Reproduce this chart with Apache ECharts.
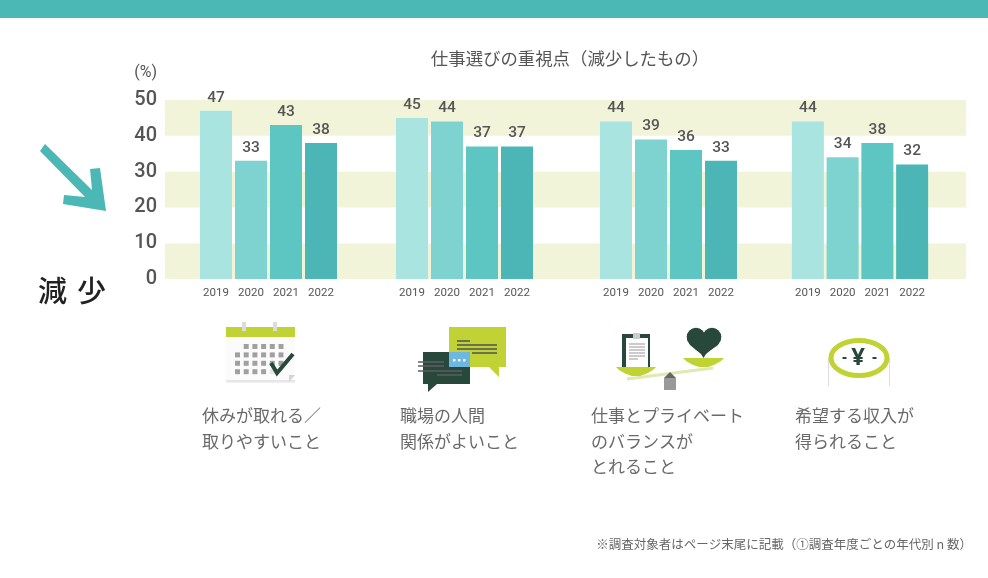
<!DOCTYPE html>
<html><head><meta charset="utf-8">
<style>html,body{margin:0;padding:0;background:#fff}#c{width:988px;height:578px}</style>
<script src="https://cdn.jsdelivr.net/npm/echarts@6/dist/echarts.min.js"></script>
</head><body><div id="c"></div>
<script>
const chartTitle = '仕事選びの重視点（減少したもの）';
const years = ['2019','2020','2021','2022'];
const yearColors = ['#a9e4e0','#7ed3d0','#5ec6c2','#4bb6b5'];
const restTime = [47,33,43,38];
const relations = [45,44,37,37];
const balance = [44,39,36,33];
const income = [44,34,38,32];
const groups = [restTime, relations, balance, income];
const yTicksMax = 50;
const captions = ['休みが取れる／\n取りやすいこと','職場の人間\n関係がよいこと','仕事とプライベート\nのバランスが\nとれること','希望する収入が\n得られること'];
const footnote = '※調査対象者はページ末尾に記載（①調査年度ごとの年代別 n 数）';

const JP = '"Noto Sans CJK JP"';
const NUM = 'Roboto, "Noto Sans"';
const gridLefts = [198.5, 394.5, 598.5, 790.5];
const capX = [202, 400, 591, 795];

const grids = [{left:165, width:801, top:100, height:179}];
const xAxes = [{gridIndex:0, type:'category', data:[''], show:false}];
const yAxes = [{gridIndex:0, type:'value', min:0, max:yTicksMax, interval:10,
  name:'(%)', nameGap:19, nameTextStyle:{align:'right', padding:[0,8,0,0], color:'#555', fontSize:16, fontFamily:NUM},
  axisLine:{show:false}, axisTick:{show:false}, splitLine:{show:false},
  splitArea:{show:true, areaStyle:{color:['#f1f4d9','#ffffff']}},
  axisLabel:{margin:8, color:'#555', fontSize:20, fontWeight:500, fontFamily:NUM, padding:[0,0,4,0]}}];
const series = [];
groups.forEach((vals,i)=>{
  const n=i+1;
  grids.push({left:gridLefts[i], width:i===3?139:140, top:100, height:179});
  xAxes.push({gridIndex:n, type:'category', data:years, axisLine:{show:false}, axisTick:{show:false},
    axisLabel:{margin:8, color:'#555', fontSize:11.5, fontFamily:NUM, interval:0}});
  yAxes.push({gridIndex:n, type:'value', min:0, max:yTicksMax, interval:10, show:false, splitLine:{show:false}});
  series.push({type:'bar', xAxisIndex:n, yAxisIndex:n, barWidth:32,
    data:vals.map((v,k)=>({value:v, itemStyle:{color:yearColors[k]}})),
    label:{show:true, position:'top', distance:5, color:'#555', fontSize:15.5, fontWeight:500, fontFamily:NUM}});
});

const DG='#27483a', LG='#c1d234', G='#a0a0a0';
const g=[];
const rect=(x,y,w,h,fill)=>g.push({type:'rect',shape:{x,y,width:w,height:h},style:{fill}});
const poly=(pts,fill)=>g.push({type:'polygon',shape:{points:pts},style:{fill}});
const line=(x1,y1,x2,y2,stroke,w)=>g.push({type:'line',shape:{x1,y1,x2,y2},style:{stroke,lineWidth:w}});
const text=(x,y,t,o)=>g.push({type:'text',x,y,style:Object.assign({text:t,fontFamily:JP,fill:'#666'},o)});

// arrow
poly([[45,144],[92,190],[90,169],[100,168],[106,211],[63,204],[64,195],[85,197],[40,151]],'#4bb8b5');
text(38,276,'減',{fontSize:29,fill:'#222',fontWeight:500});
text(77,276,'少',{fontSize:29,fill:'#222',fontWeight:500});

// captions
captions.forEach((c,i)=>text(capX[i],403,c,{fontSize:17,lineHeight:25.5,fill:'#6a6a6a',verticalAlign:'top'}));
text(972,544,footnote,{fontSize:12.5,fill:'#666',align:'right',verticalAlign:'middle'});

// calendar
rect(226,337,69,45,'#fbfbfb');
rect(226,380,69,2.5,'#e6e6e6');
rect(226,327,69,10,LG);
rect(242,322,4,9,'#dcdcdc'); rect(273,322,4,9,'#dcdcdc');
const cal=[[1,5],[0,6],[0,6],[0,5]];
cal.forEach((r,ri)=>{for(let k=0;k<r[1];k++) rect(235+(r[0]+k)*8.7,344+ri*8.4,5,5,(ri>=2&&k===4)?(ri===3?'#e6e6e6':G):G);});
poly([[289,382],[295,375],[289,375]],'#d4d4d4');
g.push({type:'polyline',shape:{points:[[271,363],[277,373],[293,354]]},style:{stroke:DG,lineWidth:4,fill:null}});

// speech bubbles
poly([[449,327],[506,327],[506,367],[499,367],[499,377],[489,367],[449,367]],LG);
[[457,470,341],[457,497,345],[457,497,349],[472,497,353]].forEach(l=>line(l[0],l[2],l[1],l[2],'#4d5258',1.5));
poly([[423,352],[470,352],[470,384],[437,384],[428,392],[428,384],[423,384]],DG);
rect(449,352,21,15,'#6cb8e0');
[454,459,464].forEach(x=>rect(x-1,359,2.4,2.4,'#fff'));
[[418,444,362],[418,444,366],[418,462,371],[437,462,375]].forEach(l=>line(l[0],l[2],l[1],l[2],'#5a5f63',1.5));

// balance
line(627,379,713,368,'#dfe9b0',3);
rect(664,378,12,12,'#999');
poly([[664,378],[670,372],[676,378]],'#666');
rect(622,334,28,33,DG);
rect(626,338,22,29,'#fff');
rect(633,333,7,6,'#ccc');
[344,347,350,353,356,359].forEach((y,i)=>line(629,y,i===5?638:645,y,'#999',1));
poly([[616,367],[656,367],[653,370],[647,373.5],[640,376],[632,376],[625,373.5],[619,370]],LG);
poly([[683,358],[724,358],[721,361],[715,364.5],[708,367],[699,367],[692,364.5],[686,361]],LG);
g.push({type:'circle',shape:{cx:696,cy:337,r:9.3},style:{fill:DG}});
g.push({type:'circle',shape:{cx:712,cy:337,r:9.3},style:{fill:DG}});
poly([[687,339],[690,345],[696,350],[701,354],[703.5,358],[706,354],[711,350],[718,345],[721,339],[704,333]],DG);

// yen coin
line(828.5,358,828.5,386,'#ddd',1); line(889.5,358,889.5,386,'#ddd',1);
g.push({type:'ellipse',shape:{cx:859,cy:358,rx:28,ry:17.5},style:{fill:'#fff',stroke:LG,lineWidth:5}});
text(858,358,'¥',{fontFamily:'"Noto Sans"',fontSize:24,fontWeight:700,fill:DG,align:'center',verticalAlign:'middle'});
rect(842.5,357,4,2,DG); rect(872.5,357,4,2,DG);

// top band
rect(0,0,988,18,'#4bb8b5');

const chart=echarts.init(document.getElementById('c'),null,{renderer:'canvas'});
chart.setOption({
  animation:false, backgroundColor:'#fff',
  title:{text:chartTitle,left:565,top:45,textAlign:'center',textStyle:{fontFamily:JP,fontSize:17.4,fontWeight:'normal',color:'#555'}},
  grid:grids, xAxis:xAxes, yAxis:yAxes, series, graphic:g
});
</script></body></html>
